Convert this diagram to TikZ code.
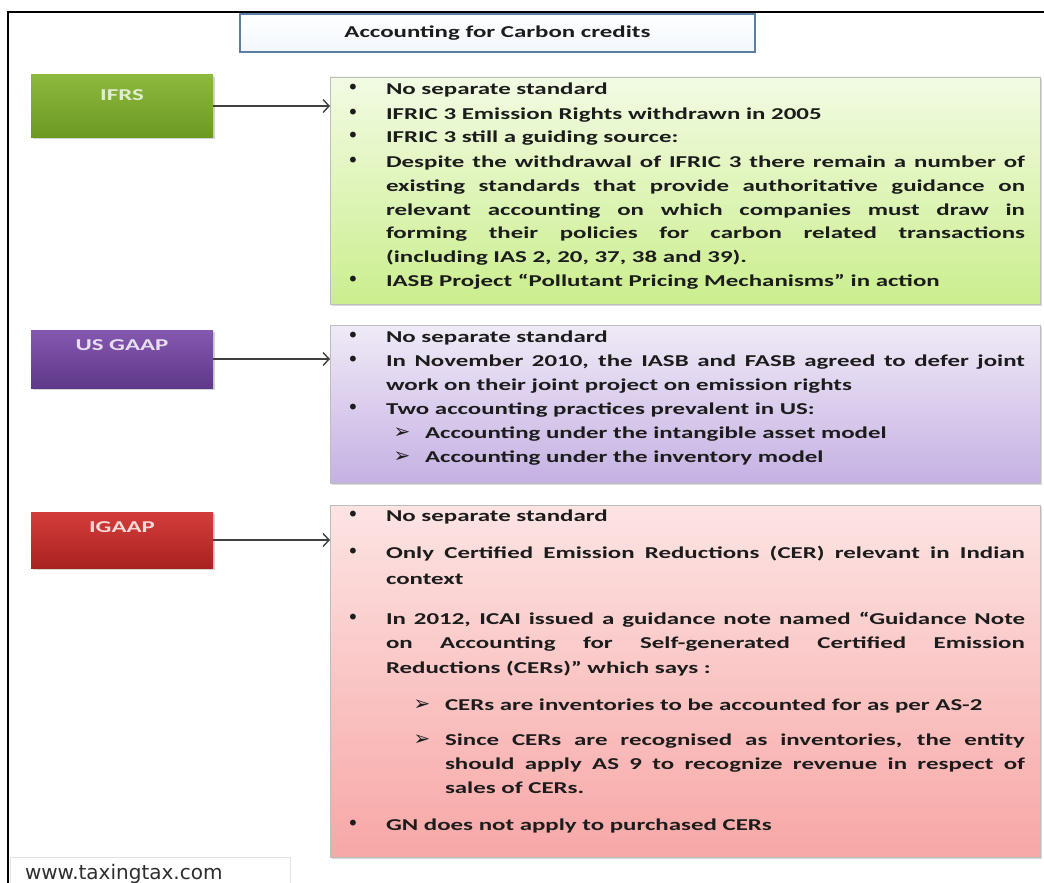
\documentclass[tikz,border=0pt]{standalone}
\usepackage{fontspec}
\setmainfont{Carlito}[FakeStretch=1.5]
\newfontfamily\dingfont{DejaVu Sans}
\newfontfamily\footfont{DejaVu Sans}
\usetikzlibrary{arrows.meta,shadows}
\definecolor{gtop}{HTML}{8DB83E}
\definecolor{gbot}{HTML}{6B9A23}
\definecolor{ptop}{HTML}{8558B0}
\definecolor{pbot}{HTML}{5E3889}
\definecolor{rtop}{HTML}{D43C3A}
\definecolor{rbot}{HTML}{A92322}
\definecolor{cgtop}{HTML}{F2FBE3}
\definecolor{cgbot}{HTML}{CBEE8E}
\definecolor{cptop}{HTML}{F0EAF7}
\definecolor{cpbot}{HTML}{C5B1E3}
\definecolor{crtop}{HTML}{FCE4E3}
\definecolor{crbot}{HTML}{F7A7A6}
\definecolor{boxline}{HTML}{BDBDBD}
\definecolor{textc}{HTML}{1C1C1C}
\definecolor{arrowc}{HTML}{404040}
\definecolor{titleline}{HTML}{5B7EA4}
\definecolor{titlebot}{HTML}{F2F7FE}
\definecolor{footc}{HTML}{2E2E2E}
\definecolor{footline}{HTML}{E2E2E2}
\newcommand\jl[2]{\makebox[#1][s]{#2}}
\tikzset{
  every node/.style={inner sep=0pt, outer sep=0pt},
  lbox/.style={anchor=north west, minimum width=182pt, minimum height=#1,
    drop shadow={shadow xshift=2pt, shadow yshift=-2pt, opacity=0.35}},
  cbox/.style={anchor=north west, draw=boxline, line width=0.6pt,
    minimum width=710pt, minimum height=#1,
    drop shadow={shadow xshift=2pt, shadow yshift=-2pt, opacity=0.3}},
  lbl/.style={font=\fontsize{16.6}{20}\selectfont\bfseries, text=#1},
  txt/.style={anchor=base west, font=\fontsize{16.6}{20}\selectfont\bfseries, text=textc},
  bul/.style={anchor=base, font=\dingfont\fontsize{20}{22}\selectfont, text=textc},
  subb/.style={anchor=base, font=\dingfont\bfseries\fontsize{20}{22}\selectfont, text=textc},
  conn/.style={draw=arrowc, line width=1.6pt,
    -{Straight Barb[length=6pt, width=13pt, line width=1.4pt]}},
}
\begin{document}
\begin{tikzpicture}[x=1pt, y=-1pt]
\useasboundingbox (0,0) rectangle (1044,883);
% frame
\coordinate (fa) at (8,883);
\coordinate (fb) at (8,12);
\coordinate (fc) at (1044,12);
\draw[line width=2.6pt, line join=miter] (fa) -- (fb) -- (fc);
% title
\node[anchor=north west, draw=titleline, line width=1.5pt, top color=white, bottom color=titlebot,
  minimum width=515pt, minimum height=38pt, font=\fontsize{16.6}{20}\selectfont\bfseries, text=textc]
  (title) at (240,14) {Accounting for Carbon credits};
% left boxes
\node[lbox=62pt, top color=gtop, bottom color=gbot] (ifrs) at (31,75) {};
\node[lbl=gtop!25!white] (ifrsL) at (122,95) {IFRS};
\node[lbox=58pt, top color=ptop, bottom color=pbot] (usgaap) at (31,330) {};
\node[lbl=ptop!20!white] (usgaapL) at (122,345) {US GAAP};
\node[lbox=56pt, top color=rtop, bottom color=rbot] (igaap) at (31,512) {};
\node[lbl=rtop!20!white] (igaapL) at (122,527) {IGAAP};
% content boxes
\node[cbox=227pt, top color=cgtop, bottom color=cgbot] (gbox) at (330,77) {};
\node[cbox=158pt, top color=cptop, bottom color=cpbot] (pbox) at (330,325) {};
\node[cbox=352pt, top color=crtop, bottom color=crbot] (rbox) at (330,505) {};
% connectors
\draw[conn] (ifrs.east) -- (ifrs.east -| gbox.west);
\draw[conn] (usgaap.east) -- (usgaap.east -| pbox.west);
\draw[conn] (igaap.east) -- (igaap.east -| rbox.west);
% green text
\node[bul] (gb1) at (353,94) {•};
\node[txt] (gt1) at (386,94) {No separate standard};
\node[bul] (gb2) at (353,119) {•};
\node[txt] (gt2) at (386,119) {IFRIC 3 Emission Rights withdrawn in 2005};
\node[bul] (gb3) at (353,142) {•};
\node[txt] (gt3) at (386,142) {IFRIC 3 still a guiding source:};
\node[bul] (gb4) at (353,167) {•};
\node[txt] (gt4a) at (386,167) {\jl{639pt}{Despite the withdrawal of IFRIC 3 there remain a number of}};
\node[txt] (gt4b) at (386,191) {\jl{639pt}{existing standards that provide authoritative guidance on}};
\node[txt] (gt4c) at (386,215) {\jl{639pt}{relevant accounting on which companies must draw in}};
\node[txt] (gt4d) at (386,238) {\jl{639pt}{forming their policies for carbon related transactions}};
\node[txt] (gt4e) at (386,262) {(including IAS 2, 20, 37, 38 and 39).};
\node[bul] (gb5) at (353,286) {•};
\node[txt] (gt5) at (386,286) {IASB Project “Pollutant Pricing Mechanisms” in action};
% purple text
\node[bul] (pb1) at (353,342) {•};
\node[txt] (pt1) at (386,342) {No separate standard};
\node[bul] (pb2) at (353,366) {•};
\node[txt] (pt2a) at (386,366) {\jl{639pt}{In November 2010, the IASB and FASB agreed to defer joint}};
\node[txt] (pt2b) at (386,390) {work on their joint project on emission rights};
\node[bul] (pb3) at (353,414) {•};
\node[txt] (pt3) at (386,414) {Two accounting practices prevalent in US:};
\node[subb] (ps1) at (402,438) {➢};
\node[txt] (pst1) at (425,438) {Accounting under the intangible asset model};
\node[subb] (ps2) at (402,462) {➢};
\node[txt] (pst2) at (425,462) {Accounting under the inventory model};
% red text
\node[bul] (rb1) at (353,521) {•};
\node[txt] (rt1) at (386,521) {No separate standard};
\node[bul] (rb2) at (353,558) {•};
\node[txt] (rt2a) at (386,558) {\jl{639pt}{Only Certified Emission Reductions (CER) relevant in Indian}};
\node[txt] (rt2b) at (386,584) {context};
\node[bul] (rb3) at (353,624) {•};
\node[txt] (rt3a) at (386,624) {\jl{639pt}{In 2012, ICAI issued a guidance note named “Guidance Note}};
\node[txt] (rt3b) at (386,648) {\jl{639pt}{on Accounting for Self-generated Certified Emission}};
\node[txt] (rt3c) at (386,673) {Reductions (CERs)” which says :};
\node[subb] (rs1) at (422,710) {➢};
\node[txt] (rst1) at (445,710) {CERs are inventories to be accounted for as per AS-2};
\node[subb] (rs2) at (422,745) {➢};
\node[txt] (rst2a) at (445,745) {\jl{580pt}{Since CERs are recognised as inventories, the entity}};
\node[txt] (rst2b) at (445,769) {\jl{580pt}{should apply AS 9 to recognize revenue in respect of}};
\node[txt] (rst2c) at (445,793) {sales of CERs.};
\node[bul] (rb4) at (353,830) {•};
\node[txt] (rt4) at (386,830) {GN does not apply to purchased CERs};
% footer
\node[anchor=north west, draw=footline, fill=white, minimum width=280pt, minimum height=27pt] (footbox) at (10,857) {};
\node[anchor=base west, font=\footfont\fontsize{20}{24}\selectfont, text=footc] (foot) at (25,879) {www.taxingtax.com};
\end{tikzpicture}
\end{document}
